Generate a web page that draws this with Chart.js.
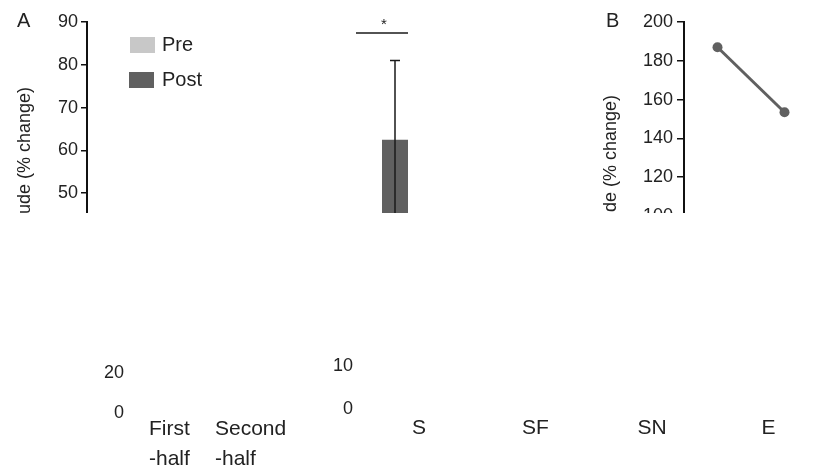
<!DOCTYPE html>
<html><head><meta charset="utf-8">
<script src="https://cdn.jsdelivr.net/npm/chart.js@4.4.0/dist/chart.umd.min.js"></script>
<style>
html,body{margin:0;padding:0;background:#fff;}
body{width:829px;height:467px;position:relative;overflow:hidden;font-family:"Liberation Sans",Arial,sans-serif;}
.clip{position:absolute;left:0;top:0;width:829px;height:213px;overflow:hidden;}
.box{position:absolute;}
.panel{position:absolute;font-size:20px;line-height:20px;color:#222;}
</style></head><body>
<div class="clip">
  <div class="box" style="left:0;top:0;"><canvas id="cA" width="450" height="467"></canvas></div>
  <div class="box" style="left:590px;top:0;"><canvas id="cB" width="239" height="467"></canvas></div>
</div>
<div class="box" style="left:0;top:350px;"><canvas id="cC" width="300" height="117"></canvas></div>
<div class="box" style="left:300px;top:340px;"><canvas id="cD" width="529" height="127"></canvas></div>
<div class="panel" style="left:17px;top:10px">A</div>
<div class="panel" style="left:606px;top:10px">B</div>
<script>
// ---- data ----
const yTitle = "Peak Amplitude (% change)";
const seriesNames = ["Pre", "Post"];
const groupsA = ["First-half", "Second-half", "S"];
const preA = [null, null, null];          // hidden below the visible region
const postA = [null, null, 62.5];
const postErrA = [null, null, 18.5];
const sigA = [null, null, "*"];
const sigLevelA = 87.4;
const halvesB = ["First-half", "Second-half"];
const amplitudeB = [187, 153.5];
const halvesLabels = [["First", "-half"], ["Second", "-half"]];
const conditions = ["S", "SF", "SN", "E"];

const FONT = '"Liberation Sans", Arial, sans-serif';
const TXT = '#222';
const PRE_COL = '#c8c8c8';
const POST_COL = '#606060';
Chart.defaults.font.family = FONT;
Chart.defaults.color = TXT;

// y-axis title drawn beside the axis, its end placed near the top of the panel
function yTitlePlugin(cx, endY) {
  return {
    id: 'yTitle',
    afterDraw(chart) {
      const ctx = chart.ctx;
      ctx.save();
      ctx.translate(cx, endY);
      ctx.rotate(-Math.PI / 2);
      ctx.fillStyle = TXT;
      ctx.font = '18px ' + FONT;
      ctx.textAlign = 'right';
      ctx.textBaseline = 'middle';
      ctx.fillText(yTitle, 0, 0);
      ctx.restore();
    }
  };
}

const annotA = {
  id: 'annotA',
  afterDatasetsDraw(chart) {
    const ctx = chart.ctx, y = chart.scales.y;
    const metaPost = chart.getDatasetMeta(1);
    ctx.save();
    ctx.strokeStyle = '#1a1a1a';
    ctx.lineWidth = 1.5;
    postA.forEach((v, i) => {
      if (v == null || postErrA[i] == null) return;
      const bx = metaPost.data[i].x;
      const yT = y.getPixelForValue(v + postErrA[i]);
      const yB = y.getPixelForValue(v - postErrA[i]);
      ctx.beginPath();
      ctx.moveTo(bx, yT); ctx.lineTo(bx, yB);
      ctx.moveTo(bx - 5, yT); ctx.lineTo(bx + 5, yT);
      ctx.moveTo(bx - 5, yB); ctx.lineTo(bx + 5, yB);
      ctx.stroke();
    });
    sigA.forEach((s, i) => {
      if (!s) return;
      const bar = metaPost.data[i];
      const w = bar.width;
      const x1 = bar.x + w / 2, x0 = bar.x - 1.5 * w;
      const yy = y.getPixelForValue(sigLevelA);
      ctx.beginPath(); ctx.moveTo(x0, yy); ctx.lineTo(x1, yy); ctx.stroke();
      ctx.fillStyle = TXT;
      ctx.font = '15px ' + FONT;
      ctx.textAlign = 'center';
      ctx.textBaseline = 'alphabetic';
      ctx.fillText(s, (x0 + x1) / 2 + 2, yy - 4);
    });
    // legend
    chart.data.datasets.forEach((ds, i) => {
      const top = 37 + i * 35;
      ctx.fillStyle = ds.backgroundColor;
      ctx.fillRect(130 - i, top, 25, 16);
      ctx.fillStyle = TXT;
      ctx.font = '20px ' + FONT;
      ctx.textAlign = 'left';
      ctx.textBaseline = 'middle';
      ctx.fillText(ds.label, 162, top + 8);
    });
    ctx.restore();
  }
};

new Chart(document.getElementById('cA'), {
  type: 'bar',
  data: {
    labels: groupsA,
    datasets: [
      { label: seriesNames[0], data: preA, backgroundColor: PRE_COL, borderWidth: 0 },
      { label: seriesNames[1], data: postA, backgroundColor: POST_COL, borderWidth: 0 }
    ]
  },
  options: {
    responsive: false, animation: false,
    datasets: { bar: { categoryPercentage: 0.4407, barPercentage: 1.0 } },
    layout: { padding: { top: 22, bottom: 60, right: 9, left: 0 } },
    plugins: { legend: { display: false }, tooltip: { enabled: false } },
    scales: {
      x: { display: false, offset: true },
      y: {
        min: 0, max: 90,
        ticks: { stepSize: 10, font: { size: 18 }, color: TXT, padding: 3 },
        grid: { drawOnChartArea: false, drawTicks: true, tickLength: 6, color: '#111', lineWidth: 1.5 },
        border: { display: true, color: '#111', width: 2 },
        afterFit(s) { s.width = 87; s.paddingTop = 0; s.paddingBottom = 0; }
      }
    }
  },
  plugins: [annotA, yTitlePlugin(25, 87)]
});

new Chart(document.getElementById('cB'), {
  type: 'line',
  data: {
    labels: halvesB,
    datasets: [{
      data: amplitudeB, borderColor: POST_COL, backgroundColor: POST_COL,
      borderWidth: 3, pointRadius: 5, pointBackgroundColor: POST_COL, pointBorderWidth: 0
    }]
  },
  options: {
    responsive: false, animation: false,
    layout: { padding: { top: 22, bottom: 57, right: 11, left: 0 } },
    plugins: { legend: { display: false }, tooltip: { enabled: false } },
    scales: {
      x: { display: false, offset: true },
      y: {
        min: 0, max: 200,
        ticks: { stepSize: 20, font: { size: 18 }, color: TXT, padding: 4 },
        grid: { drawOnChartArea: false, drawTicks: true, tickLength: 7, color: '#111', lineWidth: 1.5 },
        border: { display: true, color: '#111', width: 2 },
        afterFit(s) { s.width = 94; s.paddingTop = 0; s.paddingBottom = 0; }
      }
    }
  },
  plugins: [yTitlePlugin(21, 95)]
});

new Chart(document.getElementById('cC'), {
  type: 'bar',
  data: { labels: halvesLabels, datasets: [] },
  options: {
    responsive: false, animation: false,
    layout: { padding: { top: 23.5, bottom: 0, right: 85, left: 0 } },
    plugins: { legend: { display: false }, tooltip: { enabled: false } },
    scales: {
      x: {
        offset: false,
        grid: { display: false, drawTicks: false }, border: { display: false },
        ticks: { align: 'start', font: { size: 21, lineHeight: 1.43 }, color: TXT, padding: 1, maxRotation: 0, autoSkip: false },
        afterFit(s) { s.height = 54; s.paddingLeft = 0; s.paddingRight = 0; }
      },
      y: {
        min: 0, max: 20,
        grid: { display: false, drawTicks: false }, border: { display: false },
        ticks: { stepSize: 20, font: { size: 18 }, color: TXT, padding: 25 },
        afterFit(s) { s.width = 149; s.paddingTop = 0; s.paddingBottom = 0; }
      }
    }
  }
});

new Chart(document.getElementById('cD'), {
  type: 'bar',
  data: { labels: conditions, datasets: [] },
  options: {
    responsive: false, animation: false,
    layout: { padding: { top: 26.5, bottom: 0, right: 2.25, left: 0 } },
    plugins: { legend: { display: false }, tooltip: { enabled: false } },
    scales: {
      x: {
        offset: true,
        grid: { display: false, drawTicks: false }, border: { display: false },
        ticks: { font: { size: 21, lineHeight: 1.43 }, color: TXT, padding: 4, maxRotation: 0, autoSkip: false },
        afterFit(s) { s.height = 58; s.paddingLeft = 0; s.paddingRight = 0; }
      },
      y: {
        min: 0, max: 10,
        grid: { display: false, drawTicks: false }, border: { display: false },
        ticks: { stepSize: 10, font: { size: 18 }, color: TXT, padding: 7.75 },
        afterFit(s) { s.width = 60.75; s.paddingTop = 0; s.paddingBottom = 0; }
      }
    }
  }
});
</script>
</body></html>
